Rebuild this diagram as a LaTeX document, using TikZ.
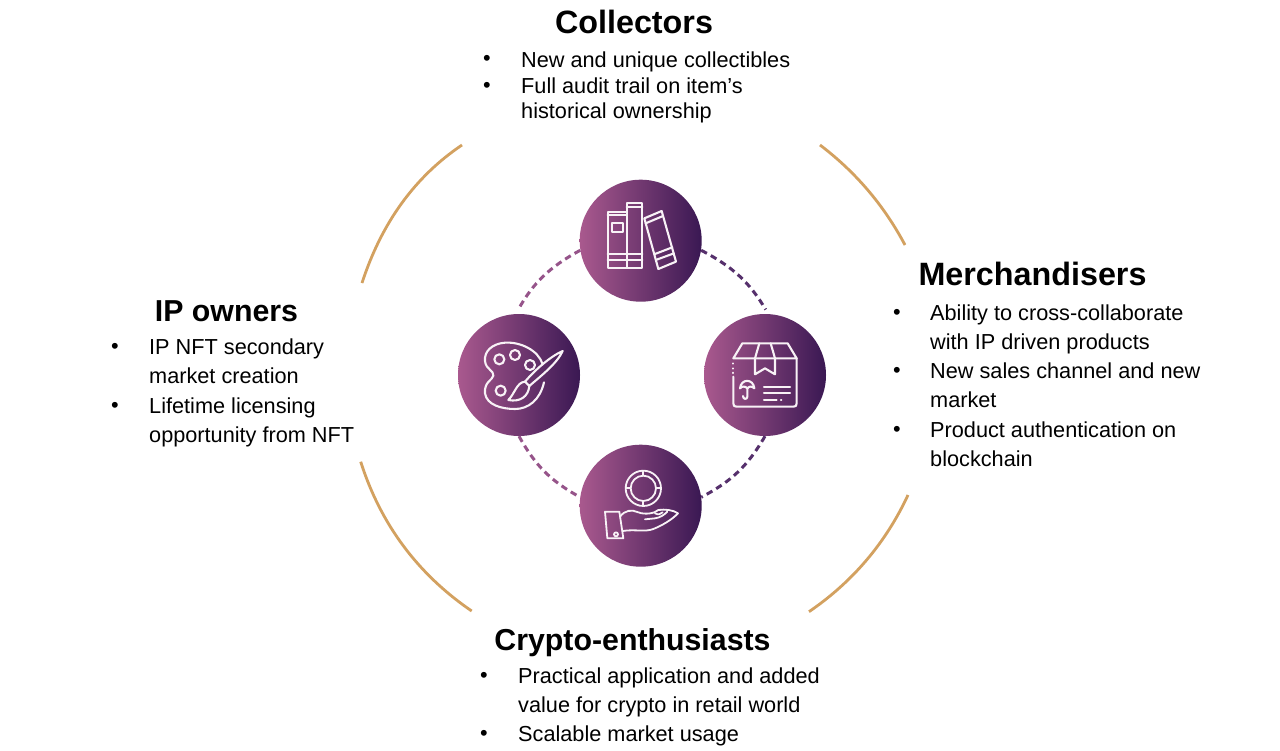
\documentclass[tikz,border=0pt]{standalone}
\usepackage{fontspec}
\setmainfont{Liberation Sans}
\definecolor{gradL}{HTML}{A9598E}
\definecolor{gradR}{HTML}{3A1853}
\definecolor{gold}{HTML}{D3A160}
\definecolor{dashL}{HTML}{96548A}
\definecolor{dashR}{HTML}{56306C}
\tikzset{
  disc/.style={circle,minimum size=122pt,inner sep=0pt,left color=gradL,right color=gradR},
  ringarc/.style={draw=gold,line width=2.8pt},
  link/.style={line width=3pt,dash pattern=on 6.5pt off 4.5pt},
  heading/.style={font=\bfseries\fontsize{32.3}{36}\selectfont,inner sep=0pt,anchor=center},
  headingsmall/.style={heading,font=\bfseries\fontsize{30.3}{36}\selectfont},
  body/.style={font=\fontsize{21.7}{29}\selectfont,inner sep=0pt,anchor=north west,align=left},
  tightbody/.style={body,font=\fontsize{21.7}{24.6}\selectfont},
  bul/.style={font=\fontsize{21.7}{26}\selectfont,inner sep=0pt,anchor=center},
  icon/.style={draw=white!92!gradL,line width=2.1pt,line join=round,line cap=round},
  thinicon/.style={icon,line width=1.8pt},
  zoomed/.style={x=0.3333pt,y=-0.3333pt}
}
\begin{document}
\begin{tikzpicture}[x=1pt,y=-1pt]
\useasboundingbox (0,0) rectangle (1280,750);
\fill[white] (0,0) rectangle (1280,750);
% outer ring pieces
\coordinate (ul1) at (362,283); \coordinate (ul2) at (462,145);
\coordinate (ur1) at (820,145); \coordinate (ur2) at (905,245);
\coordinate (ll1) at (360.7,461.7); \coordinate (ll2) at (471.7,611);
\coordinate (lr1) at (908,495); \coordinate (lr2) at (809,611.7);
\draw[ringarc] (ul1) .. controls (381.6,222.7) and (414.9,176.7) .. (ul2);
\draw[ringarc] (ur1) .. controls (855.7,172.1) and (884,205.4) .. (ur2);
\draw[ringarc] (ll1) .. controls (380.6,524.2) and (417.6,574) .. (ll2);
\draw[ringarc] (lr1) .. controls (885.7,542.9) and (852.7,581.8) .. (lr2);
% discs
\node[disc] (top) at (640.7,240.7) {};
\node[disc] (left) at (519,375) {};
\node[disc] (right) at (765,375) {};
\node[disc] (bottom) at (640.7,505.7) {};
% dashed links
\draw[link,draw=dashL,shorten >=5pt] (top.189) to[bend right=16] (left.93);
\draw[link,draw=dashR,shorten >=5pt] (top.351) to[bend left=16] (right.87);
\draw[link,draw=dashL] (left.270) to[bend right=16] (bottom.172);
\draw[link,draw=dashR] (right.270) to[bend left=16] (bottom.8);
% books
\begin{scope}[shift={(590,190)},zoomed]
\draw[icon] (53,65) rectangle (110,235);
\draw[icon] (110,38) rectangle (157,235);
\draw[icon] (67,98) rectangle (98,127);
\draw[icon] (53,76)--(110,76) (53,193)--(110,193) (53,210)--(110,210);
\draw[icon] (110,52)--(157,52) (110,193)--(157,193) (110,210)--(157,210);
\draw[icon] (163,85)--(215,63)--(258,215)--(205,237)--cycle;
\draw[icon] (167,100)--(219,78) (195,192)--(247,172) (200,209)--(252,190);
\end{scope}
% palette
\begin{scope}[shift={(470,325)},zoomed]
\draw[icon] (218,118) .. controls (205,75) and (150,50) .. (105,53)
  .. controls (65,56) and (42,80) .. (45,108)
  .. controls (48,135) and (72,135) .. (70,152)
  .. controls (68,165) and (42,170) .. (45,205)
  .. controls (50,240) and (95,252) .. (135,252)
  .. controls (175,252) and (210,225) .. (222,172);
\draw[icon] (88,103) circle (15) (135,90) circle (15) (180,120) circle (15) (92,197) circle (15);
\draw[icon] (278,78) .. controls (240,95) and (195,135) .. (165,170)
  -- (178,183) .. controls (210,155) and (262,115) .. (278,78);
\draw[icon] (165,170) .. controls (140,172) and (135,205) .. (115,225)
  .. controls (150,232) and (175,215) .. (178,183);
\end{scope}
% box
\begin{scope}[shift={(715,325)},zoomed]
\draw[icon] (55,100)--(82,55)--(218,55)--(245,100)--cycle;
\draw[icon] (55,155)--(55,235) .. controls (55,243) and (58,245) .. (65,245)
  --(235,245) .. controls (242,245) and (245,243) .. (245,235)--(245,100);
\draw[icon] (133,55)--(120,100)--(120,148)--(150,130)--(180,148)--(180,100)--(167,55);
\draw[icon] (55,115)--(55,116) (55,130)--(55,131) (55,143)--(55,144);
\draw[icon] (75,190) .. controls (78,160) and (115,160) .. (118,190)
  .. controls (110,183) and (104,183) .. (97,190)
  .. controls (90,183) and (82,183) .. (75,190);
\draw[icon] (97,190)--(97,215) .. controls (97,224) and (84,224) .. (84,213);
\draw[icon] (147,185)--(225,185) (147,205)--(225,205) (147,225)--(185,225) (198,225)--(199,225);
\end{scope}
% coin and hand
\begin{scope}[shift={(590,455)},zoomed]
\draw[thinicon] (160,100) circle (53) (160,100) circle (38);
\draw[thinicon] (160,47)--(160,62) (160,138)--(160,153) (107,100)--(122,100) (198,100)--(213,100);
\draw[thinicon] (45,170)--(88,170)--(100,250)--(52,250)--cycle;
\draw[thinicon] (78,238) circle (6);
\draw[thinicon] (90,185) .. controls (105,165) and (125,163) .. (145,172)
  .. controls (165,180) and (195,175) .. (205,165)
  .. controls (225,162) and (250,165) .. (264,175)
  .. controls (245,195) and (215,212) .. (190,222)
  .. controls (165,232) and (135,222) .. (98,228);
\draw[thinicon] (165,193)--(195,190) .. controls (210,188) and (222,180) .. (232,170);
\draw[thinicon] (195,175) .. controls (205,180) and (212,178) .. (218,172);
\end{scope}
% Collectors
\node[heading] (hc) at (634,22) {Collectors};
\node[bul] (bc1) at (487,60.5) {•};
\node[tightbody] (c1) at (521,52) {New and unique collectibles};
\node[bul] (bc2) at (487,87.5) {•};
\node[tightbody] (c2) at (521,78) {Full audit trail on item’s\\historical ownership};
% Merchandisers
\node[heading] (hm) at (1032.5,274) {Merchandisers};
\node[bul] (bm1) at (897,314) {•};
\node[body] (m1) at (930,305) {Ability to cross-collaborate\\with IP driven products};
\node[bul] (bm2) at (897,372) {•};
\node[body] (m2) at (930,363) {New sales channel and new\\market};
\node[bul] (bm3) at (897,431) {•};
\node[body] (m3) at (930,422) {Product authentication on\\blockchain};
% IP owners
\node[headingsmall] (hi) at (226.5,311.5) {IP owners};
\node[bul] (bi1) at (115,348) {•};
\node[body] (i1) at (149,339) {IP NFT secondary\\market creation};
\node[bul] (bi2) at (115,407) {•};
\node[body] (i2) at (149,398) {Lifetime licensing\\opportunity from NFT};
% Crypto
\node[headingsmall] (hx) at (632.5,642.5) {Crypto-enthusiasts};
\node[bul] (bx1) at (484,677) {•};
\node[body] (x1) at (518,668) {Practical application and added\\value for crypto in retail world};
\node[bul] (bx2) at (484,735) {•};
\node[body] (x2) at (518,726) {Scalable market usage};
\end{tikzpicture}
\end{document}
